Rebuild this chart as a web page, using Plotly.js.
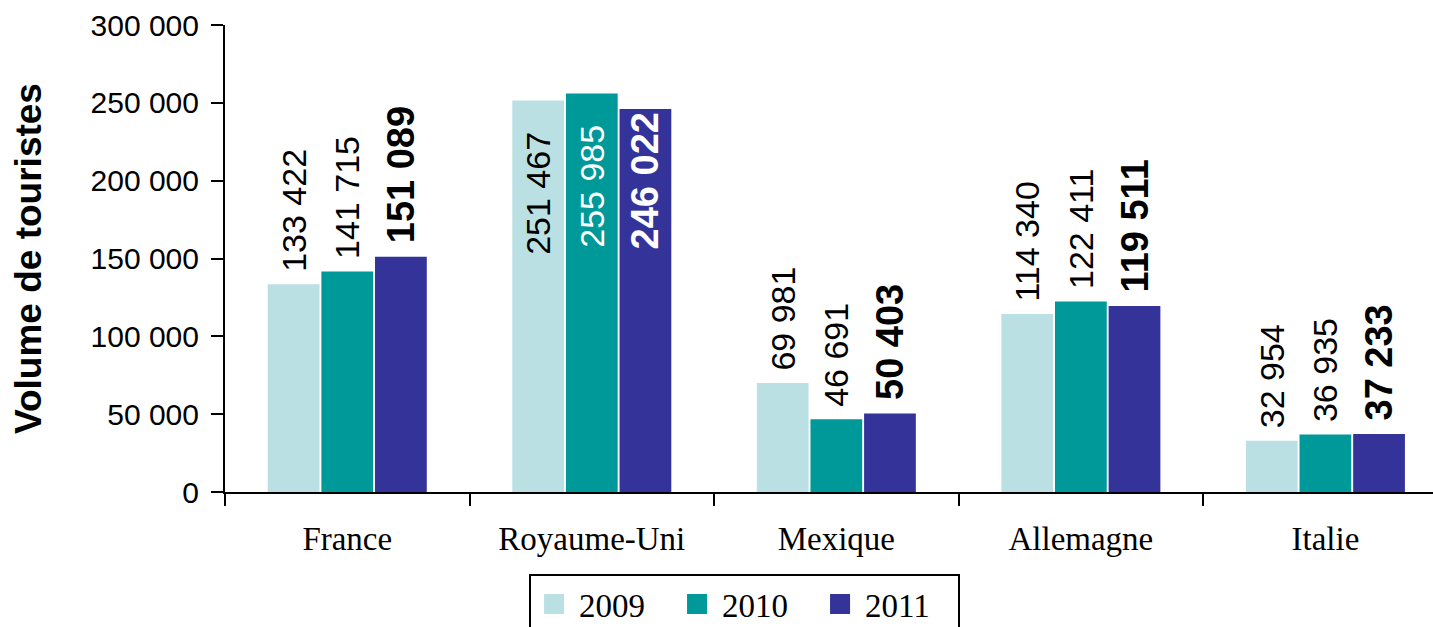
<!DOCTYPE html>
<html>
<head>
<meta charset="utf-8">
<script src="https://cdn.plot.ly/plotly-3.0.1.min.js"></script>
<style>html,body{margin:0;padding:0;background:#fff;}#chart{width:1433px;height:627px;}</style>
</head>
<body>
<div id="chart"></div>
<script>
const categories = ['France', 'Royaume-Uni', 'Mexique', 'Allemagne', 'Italie'];
const years = ['2009', '2010', '2011'];
const values2009 = [133422, 251467, 69981, 114340, 32954];
const values2010 = [141715, 255985, 46691, 122411, 36935];
const values2011 = [151089, 246022, 50403, 119511, 37233];
const yTickValues = [0, 50000, 100000, 150000, 200000, 250000, 300000];
const yTickLabels = ['0', '50 000', '100 000', '150 000', '200 000', '250 000', '300 000'];

const colors = ['#BBE0E3', '#009999', '#333399'];
const insideColors = ['#000000', '#FFFFFF', '#FFFFFF'];
const SANS = 'Liberation Sans, Arial, sans-serif';
const SERIF = 'Liberation Serif, Times New Roman, serif';
const NB = '\u00a0';

function fmt(v) { return String(v).replace(/\B(?=(\d{3})+(?!\d))/g, ' '); }

const series = [values2009, values2010, values2011];
const INSIDE_LIMIT = 200000;
const traces = [];
series.forEach((vals, i) => {
  const bold = i === 2;
  traces.push({
    type: 'bar',
    name: years[i],
    legendgroup: years[i],
    showlegend: false,
    x: categories,
    y: vals,
    text: vals.map(v => {
      let s = fmt(v);
      if (v > INSIDE_LIMIT) s = s + (bold ? '' : NB + NB + NB);
      else s = NB + s;
      return bold ? '<b>' + s + '</b>' : s;
    }),
    textposition: vals.map(v => v > INSIDE_LIMIT ? 'inside' : 'outside'),
    insidetextanchor: 'end',
    textangle: -90,
    constraintext: 'none',
    cliponaxis: false,
    insidetextfont: {family: SANS, size: bold ? 38 : 34, color: insideColors[i]},
    outsidetextfont: {family: SANS, size: bold ? 38 : 34, color: '#000'},
    marker: {color: colors[i], line: {width: 0}},
    hoverinfo: 'none'
  });
});
years.forEach((yr, i) => {
  traces.push({
    type: 'scatter',
    mode: 'markers',
    name: yr,
    legendgroup: yr,
    showlegend: true,
    x: [null],
    y: [null],
    marker: {symbol: 'square', size: 16, color: colors[i], line: {width: 4, color: colors[i]}},
    hoverinfo: 'none'
  });
});

const layout = {
  width: 1433,
  height: 627,
  margin: {l: 225, r: 0, t: 25, b: 135},
  paper_bgcolor: '#fff',
  plot_bgcolor: '#fff',
  barmode: 'group',
  bargap: 0.342,
  bargroupgap: 0.035,
  showlegend: true,
  xaxis: {
    type: 'category',
    range: [-0.5, 4.44],
    showline: true,
    linecolor: '#000',
    linewidth: 2,
    ticks: 'outside',
    tickson: 'boundaries',
    ticklen: 12,
    tickwidth: 2,
    tickcolor: '#000',
    showgrid: false,
    zeroline: false,
    automargin: false,
    ticklabelstandoff: 16,
    tickfont: {family: SERIF, size: 33, color: '#000'}
  },
  yaxis: {
    range: [0, 300000],
    showline: true,
    linecolor: '#000',
    linewidth: 2,
    ticks: 'outside',
    ticklen: 12,
    tickwidth: 2,
    tickcolor: '#000',
    showgrid: false,
    zeroline: false,
    automargin: false,
    tickmode: 'array',
    tickvals: yTickValues,
    ticktext: yTickLabels,
    ticklabelstandoff: 6,
    tickfont: {family: SANS, size: 30, color: '#000'},
    title: {text: '<b>Volume de touristes</b>', font: {family: SANS, size: 37, color: '#000'}, standoff: 38}
  },
  legend: {
    orientation: 'h',
    xref: 'paper',
    yref: 'container',
    x: 0.2517,
    y: 0.0845,
    xanchor: 'left',
    yanchor: 'top',
    bordercolor: '#000',
    borderwidth: 2,
    bgcolor: '#fff',
    font: {family: SERIF, size: 33, color: '#000'},
    entrywidth: 88,
    itemwidth: 40
  }
};

Plotly.newPlot('chart', traces, layout, {staticPlot: true, displayModeBar: false});
</script>
</body>
</html>
